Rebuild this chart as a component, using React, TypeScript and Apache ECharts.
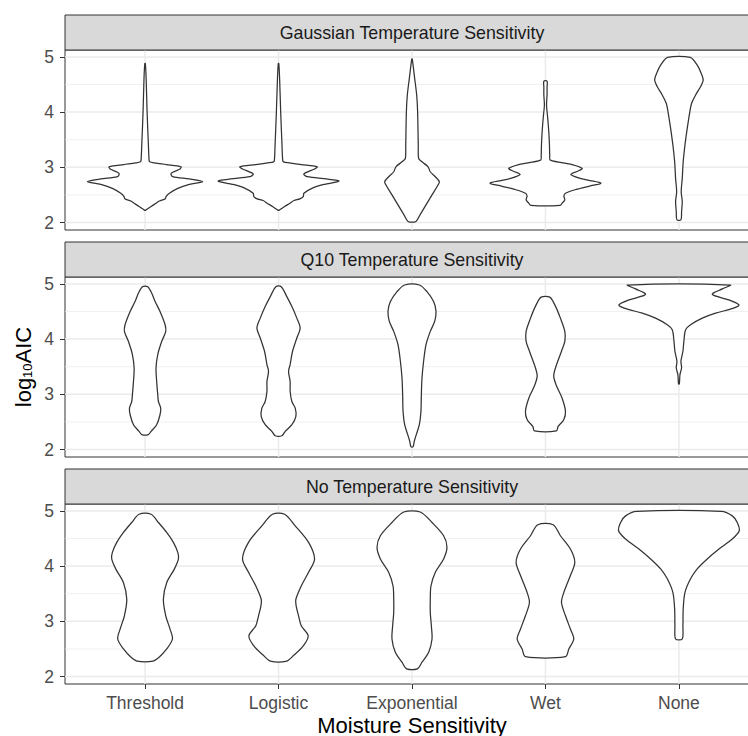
import React, { useEffect, useRef } from "react";
import * as echarts from "echarts";

const categories = ["Threshold", "Logistic", "Exponential", "Wet", "None"];
const panelTitles = [
  "Gaussian Temperature Sensitivity",
  "Q10 Temperature Sensitivity",
  "No Temperature Sensitivity",
];
const yTickValues = [2, 3, 4, 5];
const yMinorValues = [2.5, 3.5, 4.5];
const xTickValues = [1, 2, 3, 4, 5];
const xTitle = "Moisture Sensitivity";

// Violin outlines: [log10AIC, half-width in category units]
const gaussThreshold = [[4.88,0.002],[4.61,0.008],[4.01,0.015],[3.40,0.025],[3.13,0.03],[3.10,0.035],[3.08,0.07],[3.05,0.16],[3.01,0.269],[2.97,0.262],[2.89,0.195],[2.83,0.207],[2.79,0.332],[2.74,0.432],[2.69,0.332],[2.62,0.245],[2.53,0.182],[2.47,0.157],[2.43,0.152],[2.39,0.107],[2.35,0.082],[2.29,0.045],[2.22,0.002]];
const gaussLogistic = [[4.88,0.002],[4.61,0.008],[4.01,0.016],[3.40,0.026],[3.13,0.031],[3.10,0.037],[3.08,0.08],[3.05,0.17],[3.01,0.29],[2.97,0.27],[2.88,0.19],[2.83,0.215],[2.79,0.36],[2.75,0.452],[2.69,0.34],[2.62,0.25],[2.53,0.19],[2.47,0.185],[2.43,0.16],[2.40,0.115],[2.35,0.085],[2.29,0.045],[2.22,0.002]];
const gaussExponential = [[4.96,0.002],[4.61,0.02],[4.31,0.035],[4.01,0.042],[3.40,0.047],[3.16,0.05],[3.10,0.075],[3.01,0.12],[2.92,0.137],[2.83,0.175],[2.74,0.205],[2.68,0.195],[2.50,0.15],[2.32,0.105],[2.14,0.06],[2.02,0.03]];
const gaussWet = [[4.56,0.012],[4.45,0.012],[4.31,0.012],[4.13,0.008],[3.89,0.017],[3.64,0.025],[3.40,0.03],[3.22,0.032],[3.13,0.037],[3.05,0.2],[2.98,0.275],[2.93,0.24],[2.87,0.19],[2.80,0.26],[2.75,0.36],[2.71,0.415],[2.66,0.33],[2.60,0.23],[2.53,0.15],[2.48,0.138],[2.41,0.145],[2.35,0.125],[2.31,0.11]];
const gaussNone = [[4.99,0.085],[4.85,0.137],[4.73,0.162],[4.58,0.182],[4.46,0.162],[4.31,0.125],[4.16,0.095],[4.01,0.082],[3.70,0.062],[3.40,0.045],[3.10,0.032],[2.80,0.025],[2.56,0.017],[2.38,0.025],[2.20,0.02],[2.05,0.015]];

const q10Threshold = [[4.95,0.02],[4.83,0.05],[4.68,0.075],[4.50,0.112],[4.26,0.15],[4.14,0.155],[3.96,0.125],[3.72,0.095],[3.48,0.082],[3.23,0.087],[2.99,0.095],[2.87,0.1],[2.75,0.117],[2.63,0.112],[2.45,0.087],[2.33,0.045],[2.27,0.025]];
const q10Logistic = [[4.95,0.02],[4.77,0.062],[4.59,0.1],[4.38,0.137],[4.20,0.162],[4.02,0.137],[3.78,0.105],[3.54,0.087],[3.42,0.075],[3.23,0.087],[3.05,0.087],[2.87,0.1],[2.75,0.125],[2.60,0.13],[2.45,0.1],[2.33,0.05],[2.25,0.025]];
const q10Exponential = [[4.98,0.055],[4.86,0.112],[4.68,0.162],[4.50,0.18],[4.32,0.17],[4.14,0.137],[3.90,0.105],[3.60,0.087],[3.30,0.075],[2.99,0.07],[2.69,0.067],[2.45,0.055],[2.27,0.032],[2.15,0.017],[2.05,0.008]];
const q10Wet = [[4.76,0.032],[4.62,0.07],[4.38,0.112],[4.14,0.145],[3.96,0.145],[3.78,0.12],[3.48,0.075],[3.33,0.062],[3.17,0.08],[2.93,0.125],[2.69,0.15],[2.54,0.137],[2.42,0.095],[2.34,0.082]];
const q10None = [[4.98,0.385],[4.91,0.325],[4.81,0.25],[4.71,0.375],[4.62,0.45],[4.56,0.41],[4.47,0.275],[4.38,0.175],[4.26,0.087],[4.17,0.05],[3.96,0.037],[3.78,0.03],[3.60,0.015],[3.48,0.02],[3.36,0.008],[3.19,0.003]];

const noThreshold = [[4.94,0.045],[4.79,0.1],[4.61,0.162],[4.43,0.212],[4.25,0.245],[4.13,0.25],[3.95,0.22],[3.70,0.162],[3.40,0.137],[3.10,0.155],[2.86,0.187],[2.68,0.205],[2.50,0.162],[2.35,0.105],[2.28,0.06]];
const noLogistic = [[4.94,0.045],[4.73,0.125],[4.43,0.225],[4.13,0.27],[3.89,0.225],[3.64,0.17],[3.40,0.13],[3.28,0.132],[3.10,0.15],[2.92,0.17],[2.74,0.222],[2.56,0.187],[2.38,0.112],[2.28,0.062]];
const noExponential = [[4.98,0.062],[4.79,0.15],[4.55,0.237],[4.34,0.262],[4.13,0.237],[3.89,0.175],[3.64,0.142],[3.40,0.137],[3.16,0.137],[2.92,0.145],[2.68,0.15],[2.44,0.125],[2.26,0.075],[2.14,0.04]];
const noWet = [[4.75,0.057],[4.55,0.112],[4.31,0.187],[4.07,0.22],[3.83,0.187],[3.52,0.137],[3.34,0.12],[3.10,0.15],[2.86,0.187],[2.68,0.212],[2.50,0.175],[2.36,0.15]];
const noNone = [[4.99,0.317],[4.91,0.4],[4.79,0.437],[4.64,0.452],[4.49,0.4],[4.31,0.3],[4.13,0.212],[3.95,0.137],[3.77,0.087],[3.52,0.045],[3.22,0.032],[2.92,0.03],[2.68,0.025]];

const panelProfiles = [
  [gaussThreshold, gaussLogistic, gaussExponential, gaussWet, gaussNone],
  [q10Threshold, q10Logistic, q10Exponential, q10Wet, q10None],
  [noThreshold, noLogistic, noExponential, noWet, noNone],
];

const FONT = "'Liberation Sans', Arial, Helvetica, sans-serif";

export default function App() {
  const ref = useRef<HTMLDivElement>(null);
  useEffect(() => {
    document.body.style.margin = "0";
    const chart = echarts.init(ref.current!, null, { renderer: "svg" });
    const panelLeft = 65;
    const panelWidth = 694;
    const panelTops = [50, 277, 504];
    const panelHeight = 180;
    const stripHeight = 35;
    const centerX = panelLeft + panelWidth / 2;
    const tickFont = 17.5;

    const grid = panelTops.map((t) => ({
      left: panelLeft,
      top: t,
      width: panelWidth,
      height: panelHeight,
      show: true,
      backgroundColor: "#FFFFFF",
      borderColor: "#333333",
      borderWidth: 1,
      containLabel: false,
      outerBoundsMode: "none",
    }));

    const xAxis = panelTops.map((_, i) => {
      const last = i === panelTops.length - 1;
      return {
        type: "value",
        gridIndex: i,
        min: 0.4,
        max: 5.6,
        axisLine: { show: false },
        splitLine: { show: false },
        axisTick: last
          ? { show: true, customValues: xTickValues, length: 5, lineStyle: { color: "#333333", width: 1 } }
          : { show: false },
        axisLabel: last
          ? {
              show: true,
              customValues: xTickValues,
              formatter: (v: number) => categories[Math.round(v) - 1] ?? "",
              color: "#4D4D4D",
              fontSize: tickFont,
              fontFamily: FONT,
              margin: 10,
            }
          : { show: false },
      };
    });

    const yAxis = panelTops.map((_, i) => ({
      type: "value",
      gridIndex: i,
      min: 1.865,
      max: 5.125,
      axisLine: { show: false },
      splitLine: { show: false },
      axisTick: { show: true, customValues: yTickValues, length: 5, lineStyle: { color: "#333333", width: 1 } },
      axisLabel: {
        show: true,
        customValues: yTickValues,
        formatter: (v: number) => String(v),
        color: "#4D4D4D",
        fontSize: tickFont,
        fontFamily: FONT,
        margin: 11,
      },
    }));

    const series: any[] = [];
    panelTops.forEach((_, i) => {
      const hValues = [...yTickValues, ...yMinorValues];
      series.push({
        type: "custom",
        xAxisIndex: i,
        yAxisIndex: i,
        silent: true,
        z: 1,
        data: hValues.map((v) => [1, v]),
        renderItem: (params: any, api: any) => {
          const cs = params.coordSys;
          const v = api.value(1);
          const y = api.coord([1, v])[1];
          const major = yTickValues.includes(v);
          return {
            type: "line",
            shape: { x1: cs.x, y1: y, x2: cs.x + cs.width, y2: y },
            style: { stroke: "#EBEBEB", lineWidth: major ? 1.5 : 0.75 },
          };
        },
      });
      series.push({
        type: "custom",
        xAxisIndex: i,
        yAxisIndex: i,
        silent: true,
        z: 1,
        data: xTickValues.map((x) => [x, 3]),
        renderItem: (params: any, api: any) => {
          const cs = params.coordSys;
          const x = api.coord([api.value(0), 3])[0];
          return {
            type: "line",
            shape: { x1: x, y1: cs.y, x2: x, y2: cs.y + cs.height },
            style: { stroke: "#EBEBEB", lineWidth: 1.5 },
          };
        },
      });
      series.push({
        type: "custom",
        xAxisIndex: i,
        yAxisIndex: i,
        silent: true,
        z: 3,
        data: xTickValues.map((x) => [x, 3]),
        renderItem: (params: any, api: any) => {
          const cat = api.value(0);
          const prof = panelProfiles[i][params.dataIndex];
          const pts: number[][] = [];
          for (let k = 0; k < prof.length; k++) pts.push(api.coord([cat - prof[k][1], prof[k][0]]));
          for (let k = prof.length - 1; k >= 0; k--) pts.push(api.coord([cat + prof[k][1], prof[k][0]]));
          return {
            type: "polygon",
            shape: { points: pts, smooth: 0.3 },
            style: { fill: "#FFFFFF", stroke: "#333333", lineWidth: 1.25 },
          };
        },
      });
    });

    const graphic: any[] = [];
    panelTops.forEach((t, i) => {
      graphic.push({
        type: "rect",
        shape: { x: panelLeft, y: t - stripHeight, width: panelWidth, height: stripHeight },
        style: { fill: "#D9D9D9", stroke: "#333333", lineWidth: 1 },
        z: 10,
      });
      graphic.push({
        type: "text",
        x: centerX,
        y: t - stripHeight / 2,
        z: 11,
        style: {
          text: panelTitles[i],
          fill: "#1A1A1A",
          fontSize: 17.8,
          fontFamily: FONT,
          align: "center",
          verticalAlign: "middle",
          textAlign: "center",
          textVerticalAlign: "middle",
        },
      });
    });
    graphic.push({
      type: "text",
      x: centerX,
      y: 725,
      style: {
        text: xTitle,
        fill: "#000000",
        fontSize: 22,
        fontFamily: FONT,
        align: "center",
        verticalAlign: "middle",
        textAlign: "center",
        textVerticalAlign: "middle",
      },
    });
    graphic.push({
      type: "text",
      x: 22,
      y: 367,
      rotation: Math.PI / 2,
      style: {
        text: "{a|log}{s|10}{a|AIC}",
        rich: {
          a: { fontSize: 22, fontFamily: FONT, fill: "#000000", color: "#000000", lineHeight: 24, verticalAlign: "bottom" },
          s: { fontSize: 13, fontFamily: FONT, fill: "#000000", color: "#000000", lineHeight: 13, verticalAlign: "bottom" },
        },
        align: "center",
        verticalAlign: "middle",
        textAlign: "center",
        textVerticalAlign: "middle",
      },
    });

    chart.setOption({
      animation: false,
      backgroundColor: "#FFFFFF",
      grid,
      xAxis,
      yAxis,
      series,
      graphic,
    });
    return () => chart.dispose();
  }, []);
  return <div ref={ref} style={{ width: 748, height: 736 }} />;
}
